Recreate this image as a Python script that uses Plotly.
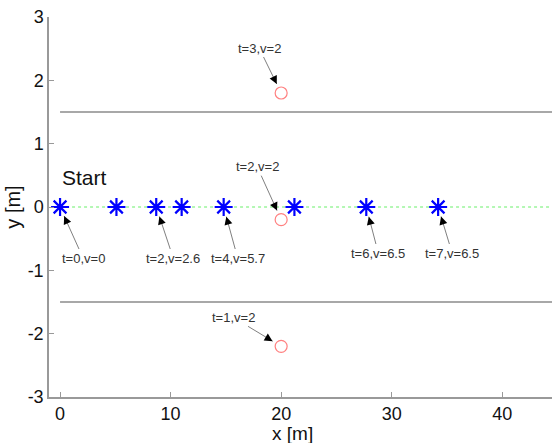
import math
import plotly.graph_objects as go

# ---------------- data ----------------
star_x = [0, 5.1, 8.7, 11.0, 14.8, 21.2, 27.7, 34.2]
star_y = [0, 0, 0, 0, 0, 0, 0, 0]

circle_x = [20, 20, 20]
circle_y = [1.8, -0.2, -2.2]

boundary_y = [1.5, -1.5]
boundary_x = [0, 46]
centre_x = [0, 46]
centre_y = [0, 0]

star_label_idx = [0, 2, 4, 6, 7]
star_labels = ["t=0,v=0", "t=2,v=2.6", "t=4,v=5.7", "t=6,v=6.5", "t=7,v=6.5"]
circle_labels = ["t=3,v=2", "t=2,v=2", "t=1,v=2"]

x_ticks = [0, 10, 20, 30, 40]
x_ticktext = ["0", "10", "20", "30", "40"]
y_ticks = [-3, -2, -1, 0, 1, 2, 3]
y_ticktext = ["-3", "-2", "-1", "0", "1", "2", "3"]

# ---------------- styling / layout helpers ----------------
star_offsets = [(23, 51), (17, 51), (14, 51), (12, 46), (14, 46)]
circle_offsets = [(-22, -45), (-24, -53), (-48, -29)]
STANDOFF = 10
FONT = "Liberation Sans, Arial, sans-serif"

W, H = 552, 443
ML, MT, MB = 49, 17, 46

fig = go.Figure()

for by in boundary_y:
    fig.add_trace(go.Scatter(x=boundary_x, y=[by, by], mode="lines",
                             line=dict(color="#a8a8a8", width=2),
                             hoverinfo="skip", showlegend=False))

fig.add_trace(go.Scatter(x=centre_x, y=centre_y, mode="lines",
                         line=dict(color="#9cf59c", width=1.3, dash="dot"),
                         hoverinfo="skip", showlegend=False))

fig.add_trace(go.Scatter(x=star_x, y=star_y, mode="markers",
                         marker=dict(symbol="asterisk-open", size=15, color="#0000ff",
                                     line=dict(color="#0000ff", width=2.2)),
                         showlegend=False))

fig.add_trace(go.Scatter(x=circle_x, y=circle_y, mode="markers",
                         marker=dict(symbol="circle-open", size=12, color="#ff8080",
                                     line=dict(color="#ff8080", width=1.2)),
                         showlegend=False))

annotations = []


def add_arrow(x, y, text, off):
    ax, ay = off
    annotations.append(dict(
        x=x, y=y, xref="x", yref="y", text=text, showarrow=True,
        ax=ax, ay=ay, arrowhead=0, arrowwidth=1, arrowcolor="#808080",
        standoff=STANDOFF, font=dict(family=FONT, size=13, color="#333333")))
    L = math.hypot(ax, ay)
    k = (STANDOFF + 9) / L
    annotations.append(dict(
        x=x, y=y, xref="x", yref="y", text="", showarrow=True,
        ax=ax * k, ay=ay * k, arrowhead=2, arrowsize=1.6, arrowwidth=1,
        arrowcolor="#000000", standoff=STANDOFF, font=dict(size=1)))


for i, lab, off in zip(star_label_idx, star_labels, star_offsets):
    add_arrow(star_x[i], star_y[i], lab, off)

for cx, cy, lab, off in zip(circle_x, circle_y, circle_labels, circle_offsets):
    add_arrow(cx, cy, lab, off)

annotations.append(dict(x=0, y=0.47, xref="x", yref="y", text="Start",
                        showarrow=False, xanchor="left", yanchor="middle",
                        font=dict(family=FONT, size=21, color="#111111")))

pw = W - ML
ph = H - MT - MB
annotations.append(dict(x=(292 - ML) / pw, y=-(433 - (MT + ph)) / ph,
                        xref="paper", yref="paper", text="x [m]",
                        xanchor="center", yanchor="middle",
                        showarrow=False, font=dict(family=FONT, size=19, color="#111111")))

fig.update_layout(
    width=W, height=H,
    margin=dict(l=ML, r=0, t=MT, b=MB, autoexpand=False),
    paper_bgcolor="white", plot_bgcolor="white",
    showlegend=False,
    annotations=annotations,
    xaxis=dict(range=[-1, 44.5], tickvals=x_ticks, ticktext=x_ticktext,
               ticks="inside", ticklen=5,
               tickcolor="#999999", showline=True, linecolor="#999999", linewidth=1.5,
               showgrid=False, zeroline=False, automargin=False,
               tickfont=dict(family=FONT, size=18, color="#111111")),
    yaxis=dict(range=[-3, 3], tickvals=y_ticks, ticktext=y_ticktext,
               ticks="inside", ticklen=5,
               tickcolor="#999999", showline=True, linecolor="#999999", linewidth=1.5,
               showgrid=False, zeroline=False, automargin=False,
               tickfont=dict(family=FONT, size=18, color="#111111"),
               title=dict(text="y [m]", standoff=2,
                          font=dict(family=FONT, size=20, color="#111111"))),
)

fig.write_html("out.html",
               config={"displayModeBar": False},
               post_script="document.body.style.margin='0';"
                           "document.body.style.overflow='hidden';")
